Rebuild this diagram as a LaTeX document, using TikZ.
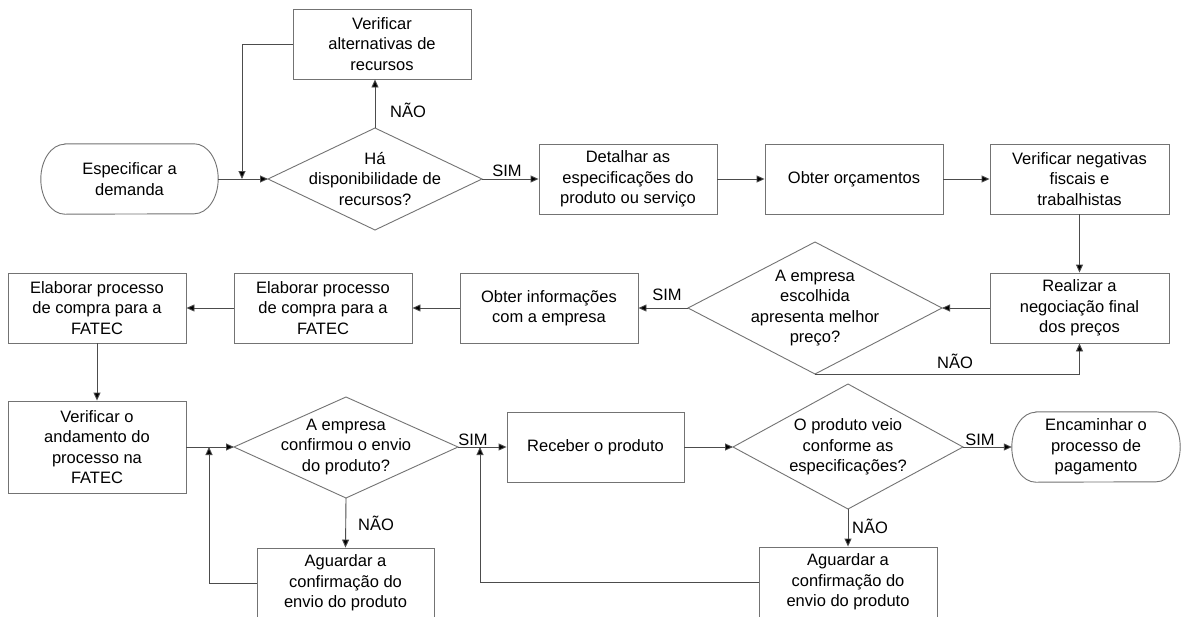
\documentclass[tikz,border=0pt]{standalone}
\usepackage{fontspec}
\setmainfont{Liberation Sans}
\usetikzlibrary{arrows.meta}

\begin{document}
\begin{tikzpicture}[x=1pt,y=-1pt,
  txt/.style={font=\fontsize{16.5}{20.5}\selectfont, align=center, inner sep=0pt},
  box/.style={txt, draw=black!55, line width=0.9pt, minimum width=178pt, minimum height=70pt},
  lbl/.style={font=\fontsize{16.5}{20}\selectfont, inner sep=0pt},
  shp/.style={draw=black!55, line width=0.9pt},
  conn/.style={draw=black!70, line width=0.9pt},
  arr/.style={conn, -{Triangle[length=8pt,width=7pt,fill=black]}}
]
% canvas
\path[use as bounding box, fill=white] (0,0) rectangle (1182,616);

% ---------- first row ----------
\node[txt, minimum width=177pt, minimum height=70pt] (start) at (129.5,179) {Especificar a\\demanda};
\node[box] (alt) at (382,44) {Verificar\\alternativas de\\recursos};
\node[txt] (d1) at (375,179) {Há\\disponibilidade de\\recursos?};
\coordinate (d1l) at (268,179);
\coordinate (d1r) at (482,179);
\coordinate (d1t) at (375,128);
\coordinate (d1b) at (375,230);
\node[box] (det) at (628,179) {Detalhar as\\especificações do\\produto ou serviço};
\node[box] (orc) at (854,179) {Obter orçamentos};
\node[box, minimum width=179pt] (neg) at (1079.5,179) {Verificar negativas\\fiscais e\\trabalhistas};

% ---------- second row ----------
\node[box, minimum width=179pt] (real) at (1079.5,308) {Realizar a\\negociação final\\dos preços};
\node[txt] (d2) at (815,308) {A empresa\\escolhida\\apresenta melhor\\preço?};
\coordinate (d2l) at (688,308);
\coordinate (d2r) at (942,308);
\coordinate (d2t) at (815,242);
\coordinate (d2b) at (815,374);
\node[box] (info) at (549,308) {Obter informações\\com a empresa};
\node[box] (elab2) at (323,308) {Elaborar processo\\de compra para a\\FATEC};
\node[box] (elab1) at (97,308) {Elaborar processo\\de compra para a\\FATEC};

% ---------- third row ----------
\node[box, minimum height=92pt] (and) at (97,447) {Verificar o\\andamento do\\processo na\\FATEC};
\node[txt] (d3) at (346,447) {A empresa\\confirmou o envio\\do produto?};
\coordinate (d3l) at (234,447);
\coordinate (d3r) at (458,447);
\coordinate (d3t) at (346,397);
\coordinate (d3b) at (346,498);
\node[box, minimum width=177pt] (ag1) at (345.5,583) {Aguardar a\\confirmação do\\envio do produto};
\node[box, minimum width=177pt] (rec) at (595.5,447) {Receber o produto};
\node[txt] (d4) at (848,447) {O produto veio\\conforme as\\especificações?};
\coordinate (d4l) at (733,447);
\coordinate (d4r) at (963,447);
\coordinate (d4t) at (848,384);
\coordinate (d4b) at (848,509);
\node[box] (ag2) at (848,582) {Aguardar a\\confirmação do\\envio do produto};
\node[txt, minimum width=168pt, minimum height=70pt] (enc) at (1096,447) {Encaminhar o\\processo de\\pagamento};

% terminals with elliptic ends
\foreach \t in {start,enc}{
  \draw[shp] ([xshift=24pt]\t.north west) -- ([xshift=-24pt]\t.north east)
    arc[start angle=90,end angle=-90,x radius=24pt,y radius=35pt]
    -- ([xshift=24pt]\t.south west)
    arc[start angle=270,end angle=90,x radius=24pt,y radius=35pt] -- cycle;
}
% decision diamonds
\foreach \d in {d1,d2,d3,d4}{
  \draw[shp] (\d l) -- (\d t) -- (\d r) -- (\d b) -- cycle;
}

% ---------- connectors ----------
\coordinate (j1) at (242,179);
\coordinate (j2) at (209,447);
\coordinate (j3) at (480,447);

\draw[arr] (start.east) -- (d1l);
\draw[arr] (alt.west) -| (j1);
\draw[arr] (d1t) -- (d1t |- alt.south);
\draw[arr] (d1r) -- (det.west);
\draw[arr] (det.east) -- (orc.west);
\draw[arr] (orc.east) -- (neg.west);
\draw[arr] (neg.south) -- (real.north);
\draw[arr] (real.west) -- (d2r);
\draw[arr] (d2l) -- (info.east);
\draw[arr] (d2b) -| (real.south);
\draw[arr] (info.west) -- (elab2.east);
\draw[arr] (elab2.west) -- (elab1.east);
\draw[arr] (elab1.south) -- (and.north);
\draw[arr] (and.east) -- (d3l);
\draw[arr] (d3b) -- (ag1.north);
\draw[arr] (ag1.west) -| (j2);
\draw[arr] (d3r) -- (rec.west);
\draw[arr] (ag2.west) -| (j3);
\draw[arr] (rec.east) -- (d4l);
\draw[arr] (d4r) -- (enc.west);
\draw[arr] (d4b) -- (ag2.north);

% ---------- branch labels ----------
\node[lbl] (n1) at (408,110) {NÃO};
\node[lbl] (s1) at (507,171) {SIM};
\node[lbl] (s2) at (667,295) {SIM};
\node[lbl] (n2) at (955,361) {NÃO};
\node[lbl] (s3) at (473,440) {SIM};
\node[lbl] (n3) at (376,523) {NÃO};
\node[lbl] (s4) at (980,440) {SIM};
\node[lbl] (n4) at (870,526) {NÃO};
\end{tikzpicture}
\end{document}
